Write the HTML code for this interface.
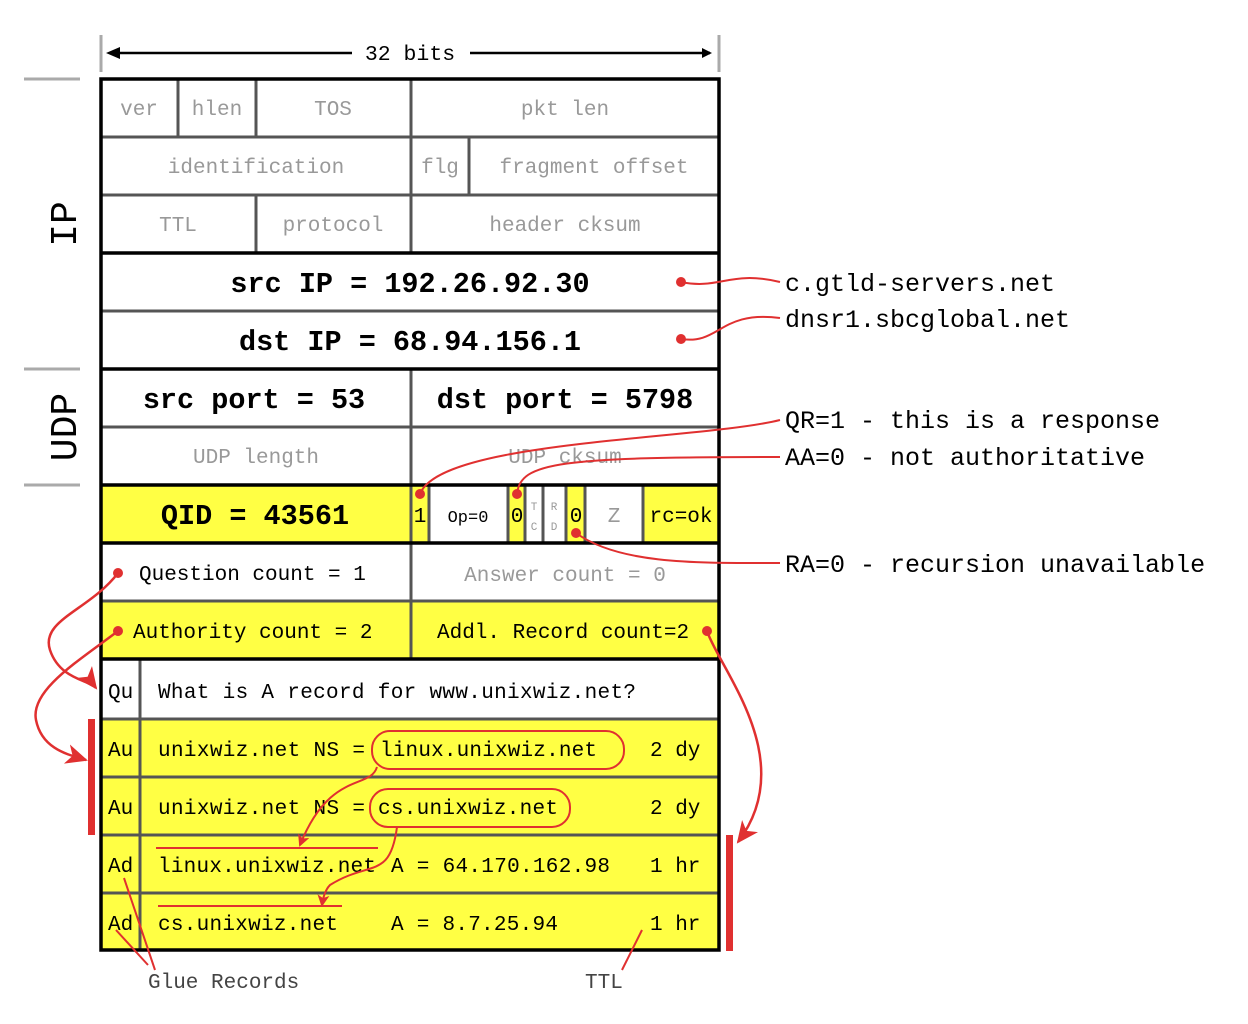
<!DOCTYPE html>
<html><head><style>body{margin:0;background:#fff}svg{display:block}text{font-family:"Liberation Mono",monospace;white-space:pre}</style></head>
<body>
<svg width="1248" height="1024" viewBox="0 0 1248 1024" xmlns="http://www.w3.org/2000/svg" xml:space="preserve">
<defs><marker id="ah" markerWidth="10" markerHeight="10" refX="8" refY="5" orient="auto" markerUnits="userSpaceOnUse"><path d="M0,0 L10,5 L0,10 z" fill="#000"/></marker>
<marker id="ra" markerWidth="24" markerHeight="20" refX="20" refY="10" orient="auto" markerUnits="userSpaceOnUse"><path d="M0,0 L22,10 L0,20 L6,10 z" fill="#e03030"/></marker>
<marker id="rs" markerWidth="12" markerHeight="12" refX="10" refY="6" orient="auto" markerUnits="userSpaceOnUse"><path d="M0,0 L12,6 L0,12 L3,6 z" fill="#e03030"/></marker></defs>
<g fill="#ffff44">
<rect x="101" y="485" width="310" height="58"/>
<rect x="411" y="485" width="18" height="58"/>
<rect x="508" y="485" width="17" height="58"/>
<rect x="566" y="485" width="19" height="58"/>
<rect x="643" y="485" width="76" height="58"/>
<rect x="101" y="601" width="618" height="58"/>
<rect x="101" y="719" width="618" height="231"/>
</g>
<g stroke="#555" stroke-width="3" fill="none">
<line x1="101" y1="137" x2="719" y2="137"/><line x1="101" y1="195" x2="719" y2="195"/>
<line x1="178" y1="79" x2="178" y2="137"/><line x1="256" y1="79" x2="256" y2="137"/>
<line x1="411" y1="79" x2="411" y2="253"/><line x1="469" y1="137" x2="469" y2="195"/>
<line x1="256" y1="195" x2="256" y2="253"/>
<line x1="411" y1="369" x2="411" y2="485"/><line x1="101" y1="427" x2="719" y2="427"/>
<line x1="101" y1="311" x2="719" y2="311"/>
<line x1="411" y1="485" x2="411" y2="543"/>
<line x1="429" y1="485" x2="429" y2="543"/><line x1="508" y1="485" x2="508" y2="543"/>
<line x1="525" y1="485" x2="525" y2="543"/><line x1="543" y1="485" x2="543" y2="543"/>
<line x1="566" y1="485" x2="566" y2="543"/><line x1="585" y1="485" x2="585" y2="543"/>
<line x1="643" y1="485" x2="643" y2="543"/>
<line x1="411" y1="543" x2="411" y2="659"/>
<line x1="101" y1="601" x2="719" y2="601"/>
<line x1="140" y1="659" x2="140" y2="950"/>
<line x1="101" y1="719" x2="719" y2="719"/><line x1="101" y1="777" x2="719" y2="777"/>
<line x1="101" y1="835" x2="719" y2="835"/><line x1="101" y1="893" x2="719" y2="893"/>
</g>
<g stroke="#000" stroke-width="3.5" fill="none">
<rect x="101" y="79" width="618" height="871"/>
<line x1="101" y1="253" x2="719" y2="253"/><line x1="101" y1="369" x2="719" y2="369"/>
<line x1="101" y1="485" x2="719" y2="485"/><line x1="101" y1="543" x2="719" y2="543"/>
<line x1="101" y1="659" x2="719" y2="659"/>
</g>
<g stroke="#aaa" stroke-width="3"><line x1="101" y1="35" x2="101" y2="72"/><line x1="719" y1="35" x2="719" y2="72"/>
<line x1="24" y1="79" x2="80" y2="79"/><line x1="24" y1="369" x2="80" y2="369"/><line x1="24" y1="485" x2="80" y2="485"/></g>
<g stroke="#000" stroke-width="2.5"><line x1="112" y1="53" x2="352" y2="53"/><line x1="470" y1="53" x2="710" y2="53" marker-end="url(#ah)"/></g>
<path d="M120,47 L106,53 L120,59 z" fill="#000"/>
<text x="410" y="60" font-size="21.5" text-anchor="middle">32 bits</text>
<text transform="translate(76,224) rotate(-90)" font-size="38" text-anchor="middle">IP</text>
<text transform="translate(76,427) rotate(-90)" font-size="38" text-anchor="middle">UDP</text>
<g fill="#999" font-size="21" text-anchor="middle">
<text x="139" y="115">ver</text><text x="217" y="115">hlen</text><text x="333" y="115">TOS</text><text x="565" y="115">pkt len</text>
<text x="256" y="173">identification</text><text x="440" y="173">flg</text><text x="594" y="173">fragment offset</text>
<text x="178" y="231">TTL</text><text x="333" y="231">protocol</text><text x="565" y="231">header cksum</text>
<text x="256" y="463">UDP length</text><text x="565" y="463">UDP cksum</text>
<text x="565" y="581">Answer count = 0</text>
<text x="614" y="522">Z</text>
<text x="534" y="510" font-size="11">T</text><text x="534" y="530" font-size="11">C</text>
<text x="554" y="510" font-size="11">R</text><text x="554" y="530" font-size="11">D</text>
</g>
<g font-weight="bold" font-size="28.5" text-anchor="middle">
<text x="410" y="292">src IP = 192.26.92.30</text>
<text x="410" y="350">dst IP = 68.94.156.1</text>
<text x="254" y="408">src port = 53</text><text x="565" y="408">dst port = 5798</text>
<text x="255" y="524">QID = 43561</text>
</g>
<g font-size="21">
<text x="420" y="522" text-anchor="middle">1</text>
<text x="468" y="522" text-anchor="middle" font-size="17">Op=0</text>
<text x="517" y="522" text-anchor="middle">0</text><text x="576" y="522" text-anchor="middle">0</text>
<text x="681" y="522" text-anchor="middle">rc=ok</text>
<text x="139" y="580">Question count = 1</text>
<text x="133" y="638">Authority count = 2</text>
<text x="437" y="638">Addl. Record count=2</text>
<text x="108" y="698">Qu</text><text x="158" y="698" textLength="478">What is A record for www.unixwiz.net?</text>
<text x="108" y="756">Au</text><text x="158" y="756" textLength="207">unixwiz.net NS =</text><text x="380" y="756" textLength="217">linux.unixwiz.net</text><text x="650" y="756">2 dy</text>
<text x="108" y="814">Au</text><text x="158" y="814" textLength="207">unixwiz.net NS =</text><text x="378" y="814" textLength="180">cs.unixwiz.net</text><text x="650" y="814">2 dy</text>
<text x="108" y="872">Ad</text><text x="158" y="872" textLength="218">linux.unixwiz.net</text><text x="391" y="872" textLength="219">A = 64.170.162.98</text><text x="650" y="872">1 hr</text>
<text x="108" y="930">Ad</text><text x="158" y="930" textLength="180">cs.unixwiz.net</text><text x="391" y="930" textLength="167">A = 8.7.25.94</text><text x="650" y="930">1 hr</text>
</g>
<g fill="#444" font-size="21"><text x="148" y="988">Glue Records</text><text x="585" y="988">TTL</text></g>
<g font-size="25">
<text x="785" y="291">c.gtld-servers.net</text><text x="785" y="327">dnsr1.sbcglobal.net</text>
<text x="785" y="428">QR=1 - this is a response</text><text x="785" y="465">AA=0 - not authoritative</text>
<text x="785" y="572">RA=0 - recursion unavailable</text>
</g>
<g stroke="#e03030" stroke-width="2" fill="none">
<path d="M681,282 C720,290 730,270 780,282"/>
<path d="M681,339 C720,345 720,310 780,318"/>
<path d="M420,494 C440,440 700,440 780,420"/>
<path d="M517,494 C520,462 560,457 780,457"/>
<path d="M576,533 C620,565 700,563 780,563"/>
<path d="M118,573 C90,610 40,620 50,650 C60,680 90,680 96,688" stroke-width="2.5" marker-end="url(#ra)"/>
<path d="M118,631 C80,660 30,690 36,720 C42,750 70,755 86,760" stroke-width="2.5" marker-end="url(#ra)"/>
<path d="M707,631 C720,670 800,760 738,842" stroke-width="2.5" marker-end="url(#ra)"/>
<rect x="372" y="731" width="252" height="38" rx="18"/>
<rect x="370" y="789" width="200" height="38" rx="18"/>
<path d="M377,767 C370,790 330,770 300,845" marker-end="url(#rs)"/>
<path d="M397,827 C390,880 370,860 330,885 C325,890 323,898 322,905" marker-end="url(#rs)"/>
<line x1="156" y1="848" x2="378" y2="848"/><line x1="158" y1="906" x2="342" y2="906"/>
<path d="M124,878 L155,970"/><path d="M116,930 L148,965"/><path d="M642,930 L622,970"/>
</g>
<g fill="#e03030"><circle cx="681" cy="282" r="5"/><circle cx="681" cy="339" r="5"/><circle cx="420" cy="494" r="5"/>
<circle cx="517" cy="494" r="5"/><circle cx="576" cy="533" r="5"/><circle cx="118" cy="573" r="5"/>
<circle cx="118" cy="631" r="5"/><circle cx="707" cy="631" r="5"/>
<rect x="88" y="719" width="7" height="116"/><rect x="726" y="835" width="7" height="116"/></g>
</svg>
</body></html>
